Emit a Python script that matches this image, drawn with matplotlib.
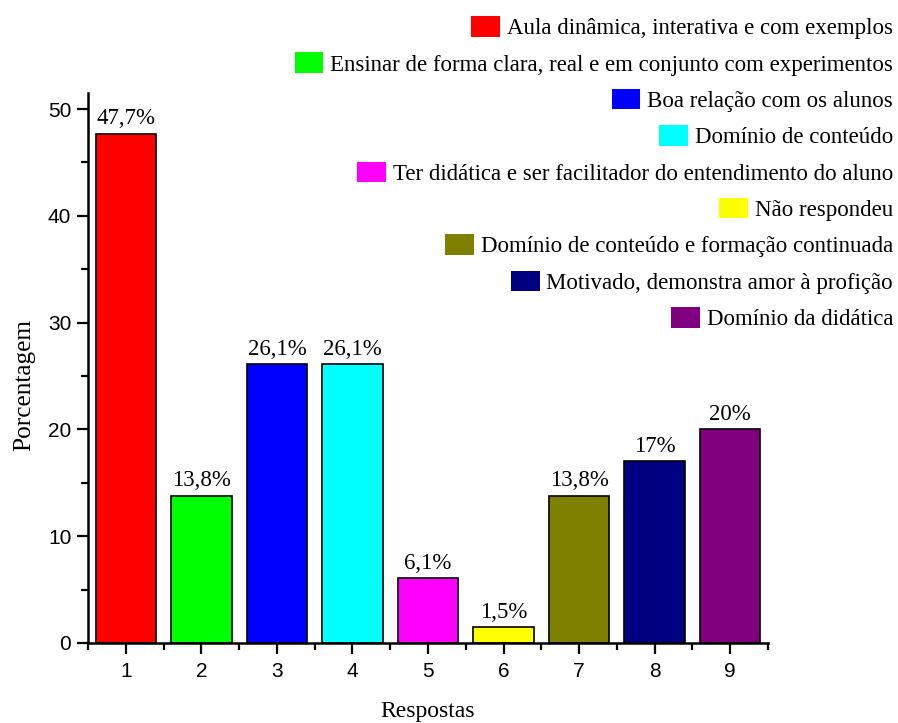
import matplotlib
matplotlib.use("Agg")
import matplotlib.pyplot as plt
from matplotlib.patches import Patch
from matplotlib.ticker import MultipleLocator

categories = [1, 2, 3, 4, 5, 6, 7, 8, 9]
values = [47.7, 13.8, 26.1, 26.1, 6.1, 1.5, 13.8, 17.0, 20.0]
value_labels = ["47,7%", "13,8%", "26,1%", "26,1%", "6,1%", "1,5%", "13,8%", "17%", "20%"]
legend_labels = [
    "Aula dinâmica, interativa e com exemplos",
    "Ensinar de forma clara, real e em conjunto com experimentos",
    "Boa relação com os alunos",
    "Domínio de conteúdo",
    "Ter didática e ser facilitador do entendimento do aluno",
    "Não respondeu",
    "Domínio de conteúdo e formação continuada",
    "Motivado, demonstra amor à profição",
    "Domínio da didática",
]
colors = ["#FF0000", "#00FF00", "#0000FF", "#00FFFF", "#FF00FF",
          "#FFFF00", "#808000", "#000080", "#800080"]

serif = "Liberation Serif"
sans = "Liberation Sans"

fig = plt.figure(figsize=(8.98, 7.23), dpi=100)
ax = fig.add_axes([88/898, 80/723, 680/898, 550/723])

ax.bar(categories, values, width=0.8, color=colors, edgecolor="black", linewidth=1.2)
for x, v, lab in zip(categories, values, value_labels):
    ax.annotate(lab, (x, v), xytext=(0, 3), textcoords="offset points",
                ha="center", va="bottom", fontsize=16.5, family=serif)

ax.set_xlim(0.5, 9.5)
ax.set_ylim(0, 51.5)
ax.set_xticks(categories)
ax.set_xticks([c + 0.5 for c in categories[:-1]] + [0.5, 9.5], minor=True)
ax.yaxis.set_major_locator(MultipleLocator(10))
ax.yaxis.set_minor_locator(MultipleLocator(5))
for s in ["top", "right"]:
    ax.spines[s].set_visible(False)
for s in ["left", "bottom"]:
    ax.spines[s].set_linewidth(1.8)
ax.tick_params(which="major", direction="out", length=8, width=1.6, labelsize=15)
ax.tick_params(which="minor", direction="out", length=5, width=1.6)
ax.tick_params(axis="x", which="major", pad=6)
ax.tick_params(axis="y", which="major", pad=4)
for t in ax.get_xticklabels() + ax.get_yticklabels():
    t.set_family(sans)

ax.set_ylabel("Porcentagem", fontsize=18.2, family=serif)
ax.set_xlabel("Respostas", fontsize=17, family=serif)
ax.yaxis.set_label_coords(24/898, 1 - 385/723, transform=fig.transFigure)
ax.xaxis.set_label_coords(428/898, 1 - 712/723, transform=fig.transFigure)
ax.xaxis.label.set_va("center")
ax.yaxis.label.set_va("center")

handles = [Patch(facecolor=c, edgecolor="none") for c in colors]
leg = fig.legend(handles, legend_labels, loc="upper right",
                 bbox_to_anchor=(893/898, 1 - 16/723), frameon=False,
                 prop={"family": serif, "size": 16.5}, borderpad=0,
                 handlelength=1.25, handleheight=1.0, handletextpad=0.3,
                 labelspacing=0.58, borderaxespad=0)
for col in leg._legend_handle_box.get_children():
    col.align = "right"

fig.savefig("out.png", dpi=100)
